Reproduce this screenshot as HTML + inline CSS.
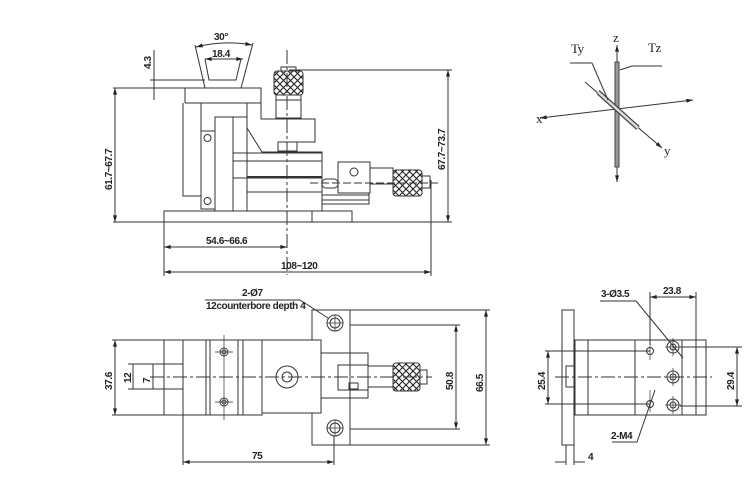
<!DOCTYPE html>
<html><head><meta charset="utf-8"><style>
html,body{margin:0;padding:0;background:#fff;}
svg{display:block;}
text{font-family:"Liberation Sans",Arial,sans-serif;font-weight:bold;fill:#222;letter-spacing:-0.4px;}
</style></head><body>
<svg width="748" height="480" viewBox="0 0 748 480" xmlns="http://www.w3.org/2000/svg">
<defs>
<pattern id="kn" width="7" height="7" patternUnits="userSpaceOnUse">
<rect width="7" height="7" fill="#fff"/>
<path d="M0 0L7 7M7 0L0 7" stroke="#222" stroke-width="1.1"/>
</pattern>
<marker id="ar" viewBox="0 0 10 6" refX="10" refY="3" markerWidth="7" markerHeight="4" orient="auto-start-reverse"><path d="M0 0L10 3L0 6z" fill="#222"/></marker>
</defs>
<g fill="none" stroke="#333" stroke-width="1">
<!-- ===== TOP VIEW ===== -->
<rect x="164" y="211" width="188" height="11"/>
<line x1="312" y1="211" x2="312" y2="222"/>
<path d="M185 103 V88 H261 V119 H315 V142 H296"/>
<path d="M185 103 H261 M201 103 V131 M247 103 V117"/>
<path d="M183 103 V196 H201"/>
<rect x="201" y="131" width="14" height="78"/>
<circle cx="207.5" cy="138" r="3.5"/>
<circle cx="207.5" cy="201" r="3.5"/>
<rect x="215" y="117" width="32" height="94"/>
<line x1="233" y1="117" x2="233" y2="211"/>
<path d="M247 128 L262 152 H322 V211"/>
<path d="M233 153 H322 M233 161 H322 M233 178 H322 M247 192 H322"/>
<path d="M247 178 V211"/>
<line x1="247" y1="177" x2="322" y2="177" stroke-width="2"/>
<rect x="281" y="67" width="15" height="4"/>
<rect x="274" y="71" width="29" height="24" rx="3" fill="url(#kn)"/>
<rect x="276" y="95" width="25" height="23"/>
<line x1="276" y1="100" x2="301" y2="100"/>
<rect x="278" y="142" width="19" height="9"/>
<rect x="322" y="179" width="16" height="9" rx="4"/>
<rect x="338" y="162" width="32" height="31"/>
<circle cx="354" cy="172" r="4"/>
<path d="M322 188 V204 H369 V193 M322 195 H369 M322 200 H369"/>
<rect x="370" y="168" width="23" height="16"/>
<rect x="393" y="170" width="29" height="26" rx="3" fill="url(#kn)"/>
<rect x="422" y="176" width="8" height="12"/>
<line x1="310" y1="183" x2="438" y2="183" stroke-dasharray="8 3"/>
<line x1="287" y1="50" x2="287" y2="275" stroke-dasharray="14 3 3 3"/>
<path d="M195 45 L205 88 M253 43 L241 88"/>
<path d="M196 47 Q224 40 252 45" marker-start="url(#ar)" marker-end="url(#ar)"/>
<path d="M205 59 L209 80 H236 L241 59"/>
<line x1="205" y1="59" x2="243" y2="59" marker-start="url(#ar)" marker-end="url(#ar)"/>
<line x1="150" y1="80" x2="205" y2="80"/>
<line x1="154" y1="50" x2="154" y2="100"/>
<line x1="113" y1="88" x2="186" y2="88"/>
<line x1="113" y1="222" x2="164" y2="222"/>
<line x1="115" y1="88" x2="115" y2="222" marker-start="url(#ar)" marker-end="url(#ar)"/>
<line x1="289" y1="70" x2="452" y2="70"/>
<line x1="352" y1="222" x2="452" y2="222"/>
<line x1="448" y1="70" x2="448" y2="222" marker-start="url(#ar)" marker-end="url(#ar)"/>
<line x1="164" y1="222" x2="164" y2="276"/>
<line x1="431" y1="180" x2="431" y2="276"/>
<line x1="164" y1="247" x2="287" y2="247" marker-start="url(#ar)" marker-end="url(#ar)"/>
<line x1="164" y1="272" x2="431" y2="272" marker-start="url(#ar)" marker-end="url(#ar)"/>

<!-- ===== FRONT VIEW ===== -->
<rect x="312" y="310" width="38" height="135"/>
<circle cx="335" cy="323" r="8"/><circle cx="335" cy="323" r="5"/>
<circle cx="335" cy="428" r="8"/><circle cx="335" cy="428" r="5"/>
<path d="M327 323 H343 M335 315 V331 M327 428 H343 M335 420 V436" stroke-width="0.7"/>
<rect x="164" y="340" width="19" height="75"/>
<rect x="183" y="340" width="79" height="75" fill="#fff"/>
<path d="M206 340 V415 M210 340 V415 M238 340 V415 M243 340 V415"/>
<rect x="262" y="340" width="59" height="73" fill="#fff"/>
<circle cx="287" cy="377" r="11"/><circle cx="287" cy="377" r="5"/>
<circle cx="224" cy="352" r="4"/><circle cx="224" cy="352" r="2"/>
<circle cx="224" cy="402" r="4"/><circle cx="224" cy="402" r="2"/>
<path d="M224 335 V420 M215 352 H233 M215 402 H233" stroke-width="0.7"/>
<path d="M152 364 H183 M152 389 H183"/>
<rect x="321" y="353" width="47" height="45"/>
<rect x="338" y="365" width="30" height="25"/>
<rect x="349" y="383" width="9" height="6"/>
<rect x="368" y="366" width="25" height="21"/>
<rect x="393" y="363" width="27" height="28" rx="3" fill="url(#kn)"/>
<rect x="420" y="370" width="7" height="14"/>
<line x1="150" y1="377" x2="432" y2="377" stroke-dasharray="14 3 3 3"/>
<path d="M205 300 H300 L328 318"/>
<path d="M112 340 H164 M112 415 H183"/>
<line x1="115" y1="340" x2="115" y2="415" marker-start="url(#ar)" marker-end="url(#ar)"/>
<line x1="153" y1="364" x2="153" y2="389"/>
<line x1="133" y1="364" x2="133" y2="389"/>
<path d="M128 364 H153 M128 389 H153"/>
<path d="M350 325 H460 M350 429 H460 M350 310 H490 M350 445 H490"/>
<line x1="456" y1="325" x2="456" y2="429" marker-start="url(#ar)" marker-end="url(#ar)"/>
<line x1="486" y1="310" x2="486" y2="445" marker-start="url(#ar)" marker-end="url(#ar)"/>
<path d="M183 415 V465 M334 436 V465"/>
<line x1="183" y1="462" x2="334" y2="462" marker-start="url(#ar)" marker-end="url(#ar)"/>

<!-- ===== SIDE VIEW ===== -->
<rect x="562" y="310" width="12" height="135"/>
<rect x="566" y="366" width="9" height="21"/>
<rect x="575" y="340" width="131" height="75"/>
<path d="M588 340 V415 M635 340 V415 M682 340 V415 M696 340 V415"/>
<circle cx="650" cy="351" r="3.5"/><circle cx="650" cy="404" r="3.5"/>
<circle cx="673" cy="347" r="6"/><circle cx="673" cy="347" r="3"/>
<circle cx="673" cy="377" r="6"/><circle cx="673" cy="377" r="3"/>
<circle cx="673" cy="405" r="6"/><circle cx="673" cy="405" r="3"/>
<path d="M650 342 V360 M650 390 V412 M665 347 H681 M673 338 V356 M665 377 H681 M673 368 V386 M665 405 H681 M673 396 V414" stroke-width="0.7"/>
<line x1="555" y1="377" x2="712" y2="377" stroke-dasharray="14 3 3 3"/>
<path d="M545 351 H650 M545 404 H650 M680 347 H742 M680 406 H742"/>
<line x1="548" y1="351" x2="548" y2="404" marker-start="url(#ar)" marker-end="url(#ar)"/>
<line x1="737" y1="347" x2="737" y2="406" marker-start="url(#ar)" marker-end="url(#ar)"/>
<path d="M650 292 V345 M696 292 V345"/>
<line x1="650" y1="297" x2="696" y2="297" marker-start="url(#ar)" marker-end="url(#ar)"/>
<path d="M600 301 H636 L683 358"/>
<path d="M612 442 H637 L655 390"/>
<path d="M566 445 V465 M574 445 V465"/>
<path d="M555 462 H566 M574 462 H585"/>

<!-- ===== AXES ===== -->
<line x1="540" y1="118" x2="693" y2="100" stroke="#333" marker-start="url(#ar)" marker-end="url(#ar)"/>
<line x1="585" y1="82" x2="662" y2="148" marker-end="url(#ar)"/>
<line x1="617" y1="45" x2="617" y2="182" marker-start="url(#ar)" marker-end="url(#ar)"/>
<rect x="615" y="62" width="4" height="105" fill="#999" stroke="#444"/>
<path d="M598 92 L638 128" stroke="#444" stroke-width="5"/>
<path d="M598 92 L638 128" stroke="#ddd" stroke-width="2.5"/>
<path d="M620 70 L632 66 H662"/>
<path d="M570 63 H592 L608 100"/>
</g>
<g font-size="10">
<text x="214" y="40">30°</text>
<text x="212" y="57">18.4</text>
<text transform="translate(151,69) rotate(-90)">4.3</text>
<text transform="translate(112,190) rotate(-90)">61.7~67.7</text>
<text transform="translate(445,170) rotate(-90)">67.7~73.7</text>
<text x="206" y="244">54.6~66.6</text>
<text x="281" y="269">108~120</text>
<text x="242" y="296">2-Ø7</text>
<text x="206" y="309">12counterbore depth 4</text>
<text transform="translate(112,390) rotate(-90)">37.6</text>
<text transform="translate(131,383) rotate(-90)">12</text>
<text transform="translate(150,383) rotate(-90)">7</text>
<text transform="translate(453,390) rotate(-90)">50.8</text>
<text transform="translate(483,392) rotate(-90)">66.5</text>
<text x="252" y="459">75</text>
<text x="601" y="297">3-Ø3.5</text>
<text x="663" y="294">23.8</text>
<text transform="translate(545,390) rotate(-90)">25.4</text>
<text transform="translate(734,390) rotate(-90)">29.4</text>
<text x="611" y="439">2-M4</text>
<text x="588" y="460">4</text>
</g>
<g font-size="13">
<text x="613" y="42" style="font-weight:normal;font-family:'Liberation Serif',serif">z</text>
<text x="648" y="52" style="font-weight:normal;font-family:'Liberation Serif',serif">Tz</text>
<text x="571" y="53" style="font-weight:normal;font-family:'Liberation Serif',serif">Ty</text>
<text x="536" y="123" style="font-weight:normal;font-family:'Liberation Serif',serif">x</text>
<text x="664" y="155" style="font-weight:normal;font-family:'Liberation Serif',serif">y</text>
</g>
</svg>
</body></html>
